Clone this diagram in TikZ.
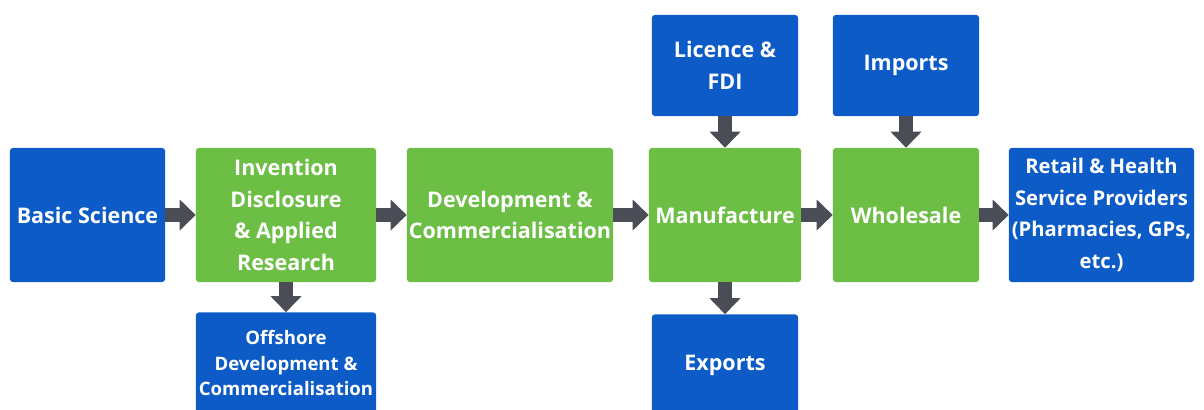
\documentclass[tikz,border=0pt]{standalone}
\usepackage{fontspec}
\setmainfont{Open Sans}
\usetikzlibrary{arrows.meta,positioning}
\definecolor{boxblue}{HTML}{0C5BC6}
\definecolor{boxgreen}{HTML}{6CBE45}
\definecolor{arrowgrey}{HTML}{4A4D55}
\tikzset{
  stage/.style={rectangle,rounded corners=2pt,text=white,align=center,inner sep=0pt,
    font=\bfseries\fontsize{15.3}{22.5}\selectfont},
  bluebox/.style={stage,fill=boxblue},
  greenbox/.style={stage,fill=boxgreen},
}
\begin{document}
\begin{tikzpicture}[x=0.025cm,y=-0.025cm]
		\useasboundingbox (0,0) rectangle (1204,409);
		\begin{scope}[every node/.style={minimum height=3.35cm}]
			\node[bluebox,minimum width=3.875cm] (basic) at (87.5,215) {Basic Science};
			\node[greenbox,minimum width=4.5cm] (invent) at (286,215) {Invention\\Disclosure\\\& Applied\\Research};
			\node[greenbox,minimum width=5.15cm] (devcom) at (510,215) {Development \&\\Commercialisation};
			\node[greenbox,minimum width=3.8cm] (manuf) at (725,215) {Manufacture};
			\node[greenbox,minimum width=3.65cm] (whole) at (906,215) {Wholesale};
			\node[bluebox,minimum width=4.625cm,font=\bfseries\fontsize{14.4}{22.5}\selectfont] (retail) at (1101.5,215) {Retail \& Health\\Service Providers\\(Pharmacies, GPs,\\etc.)};
		\end{scope}

		\begin{scope}[every node/.style={minimum width=3.65cm,minimum height=2.525cm}]
			\node[bluebox] (licence) at (725,65.5) {Licence \&\\FDI};
			\node[bluebox] (imports) at (906,65.5) {Imports};
			\node[bluebox] (exports) at (725,365) {Exports};
			\node[bluebox,minimum width=4.5cm,font=\bfseries\fontsize{13.2}{18}\selectfont] (offshore) at (286,363) {Offshore\\Development \&\\Commercialisation};
		\end{scope}

		\begin{scope}[every edge/.style={draw=arrowgrey,line width=0.35cm,
			-{Triangle[length=0.4cm,width=0.75cm]}}]
			\path (basic) edge (invent);
			\path (invent) edge (devcom);
			\path (devcom) edge (manuf);
			\path (manuf) edge (whole);
			\path (whole) edge (retail);
			\path (licence) edge (manuf);
			\path (imports) edge (whole);
			\path (invent) edge (offshore);
			\path (manuf) edge (exports);
		\end{scope}
	\end{tikzpicture}
\end{document}
